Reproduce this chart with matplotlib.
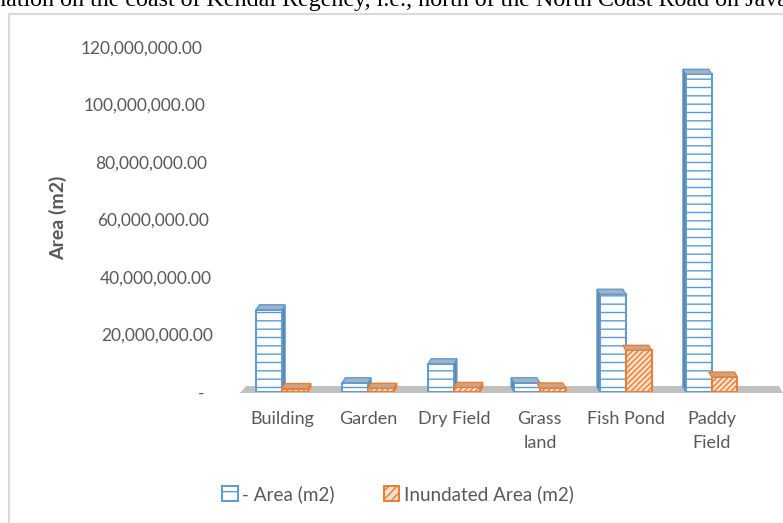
import numpy as np
import matplotlib
matplotlib.use('Agg')
import matplotlib.pyplot as plt
from matplotlib.patches import Polygon, Patch
from matplotlib.lines import Line2D
from matplotlib.ticker import FuncFormatter
from matplotlib.transforms import ScaledTranslation

# ---- data ----
categories = ['Building', 'Garden', 'Dry Field', 'Grass\nland', 'Fish Pond', 'Paddy\nField']
area = [28.6e6, 3.2e6, 9.8e6, 3.2e6, 34.0e6, 110.5e6]
inundated = [1.2e6, 1.3e6, 1.6e6, 1.4e6, 14.5e6, 5.2e6]
yticks = [0, 20e6, 40e6, 60e6, 80e6, 100e6, 120e6]
series_labels = ['- Area (m2)', 'Inundated Area (m2)']
caption = 'nation on the coast of Kendal Regency, i.e., north of the North Coast Road on Java'

BLUE = '#5b9bd5'
ORANGE = '#ed7d31'
GREY_TXT = '#595959'
W, H = 783, 523
DPI = 100

plt.rcParams['font.family'] = ['Lato', 'DejaVu Sans']
plt.rcParams['hatch.linewidth'] = 1.0

fig = plt.figure(figsize=(W / DPI, H / DPI), dpi=DPI, facecolor='white')

# caption line from the page above the chart, clipped by the top edge
fig.text(-6 / W, 1 - 6 / H, caption, family='Liberation Serif', fontsize=17.3,
         ha='left', va='baseline', color='black')

# chart frame (light grey border, cut at right/bottom)
fig.add_artist(Line2D([9 / W, 9 / W], [0, 1 - 14 / H], color='#d9d9d9', lw=1.5))
fig.add_artist(Line2D([9 / W, 1], [1 - 14 / H, 1 - 14 / H], color='#d9d9d9', lw=1.5))

# plot area: x 240..783 px, y 0 at 392 px, 120M at 47 px
ax = fig.add_axes([240 / W, (H - 392) / H, 1 - 240 / W, (392 - 47) / H])
XL = (-0.49, 5.83)
ax.set_xlim(*XL)
ax.set_ylim(0, 120e6)
for s in ax.spines.values():
    s.set_visible(False)

px_x = (XL[1] - XL[0]) / ax.bbox.width      # data units per pixel
px_y = 120e6 / ax.bbox.height

x = np.arange(len(categories))
bw = 0.3
depth_y = 5 * px_y

# floor
floor = Polygon([(XL[0], -1 * px_y), (XL[1], -1 * px_y), (XL[1] - 4 * px_x, 6 * px_y),
                 (XL[0] + 6 * px_x, 6 * px_y)], closed=True, fc='#c0c0c0', ec='none',
                clip_on=False, zorder=1)
ax.add_patch(floor)

b1 = ax.bar(x - bw / 2, area, bw, facecolor='white', edgecolor=BLUE, hatch='--',
            lw=1.4, zorder=3, label=series_labels[0])
b2 = ax.bar(x + bw / 2, inundated, bw, facecolor='#fbe0cc', edgecolor=ORANGE, hatch='//////',
            lw=1.4, zorder=3, label=series_labels[1])


def add_depth(bars, top_fc, side_fc, ec):
    for i, r in enumerate(bars):
        x0, x1, h = r.get_x(), r.get_x() + r.get_width(), r.get_height()
        dx = (3 if i < 3 else -3) * px_x
        top = Polygon([(x0, h), (x1, h), (x1 + dx, h + depth_y), (x0 + dx, h + depth_y)],
                      closed=True, fc=top_fc, ec=ec, lw=1.0, zorder=4, clip_on=False)
        ax.add_patch(top)
        xs = x1 if dx > 0 else x0
        side = Polygon([(xs, 0), (xs, h), (xs + dx, h + depth_y), (xs + dx, depth_y)],
                       closed=True, fc=side_fc, ec=ec, lw=1.0, zorder=2, clip_on=False)
        ax.add_patch(side)


add_depth(b1, '#a4b1c2', '#6b7d92', BLUE)
add_depth(b2, '#caa489', '#b0846a', ORANGE)

# y axis (accounting style, zero shown as dash)
ax.set_yticks(yticks)
ax.yaxis.set_major_formatter(FuncFormatter(lambda v, p: '-' if v == 0 else f'{v:,.2f}'))
ax.tick_params(axis='y', length=0, pad=19.5, labelsize=12.5, labelcolor=GREY_TXT)
# staggered label ends as in the reference (pixels, per tick)
shifts = [-9, 0, -1, -4, -6, -7, -10]
for lab, s in zip(ax.get_yticklabels(), shifts):
    lab.set_transform(lab.get_transform() + ScaledTranslation(s / DPI, 0, fig.dpi_scale_trans))

ax.set_xticks(x)
ax.set_xticklabels(categories, linespacing=1.6)
ax.tick_params(axis='x', length=0, pad=14, labelsize=13, labelcolor=GREY_TXT)

fig.text(58 / W, 1 - 218 / H, 'Area (m2)', rotation=90, ha='center', va='center',
         fontsize=14, fontweight='bold', color=GREY_TXT)

handles = [Patch(facecolor='white', edgecolor=BLUE, hatch='-', lw=1.4),
           Patch(facecolor='#fbe0cc', edgecolor=ORANGE, hatch='////', lw=1.4)]
fig.legend(handles, series_labels, loc='center', bbox_to_anchor=(398 / W, 1 - 494 / H),
           ncol=2, frameon=False, fontsize=13.6, labelcolor=GREY_TXT, handlelength=0.8,
           handleheight=0.8, handletextpad=0.25, columnspacing=2.6)

fig.savefig('out.png', dpi=DPI, facecolor='white')
